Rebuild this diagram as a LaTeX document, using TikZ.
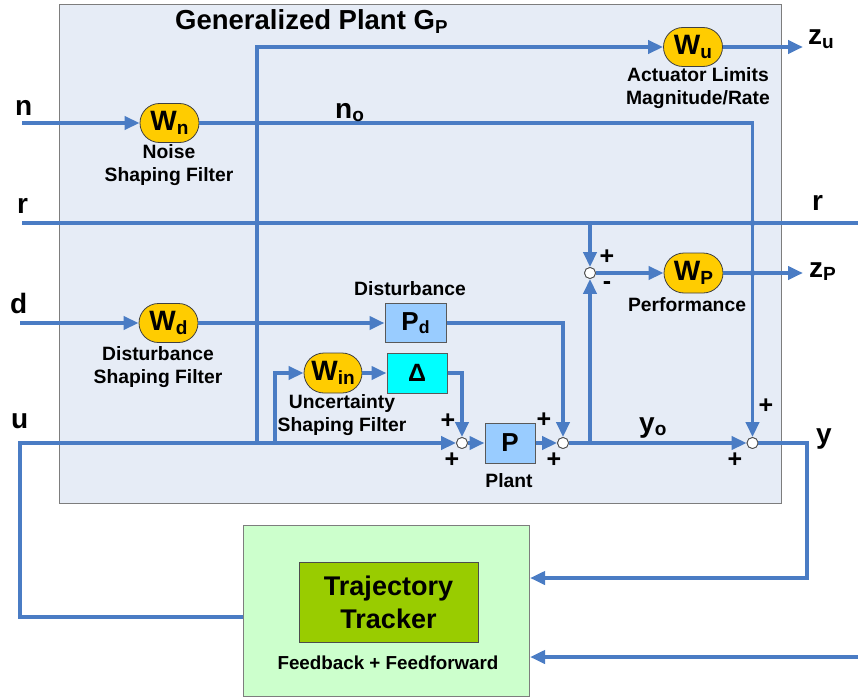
\documentclass[tikz,border=0pt]{standalone}
\usepackage{fontspec}
\setmainfont{Liberation Sans}
\usetikzlibrary{arrows.meta}

\definecolor{wirecol}{RGB}{74,124,196}
\definecolor{plantfill}{RGB}{230,236,246}
\definecolor{framegray}{RGB}{125,125,125}
\definecolor{filteryellow}{RGB}{255,204,0}
\definecolor{blockblue}{RGB}{153,204,255}
\definecolor{deltacyan}{RGB}{0,255,255}
\definecolor{trackerlight}{RGB}{204,255,204}
\definecolor{trackerdark}{RGB}{153,204,0}

% lowered, reduced subscript set in the current text font
\newcommand\lowsub[1]{\raisebox{-0.12em}{\scalebox{0.68}{#1}}}

\begin{document}
\begin{tikzpicture}[x=1pt,y=-1pt,
  wire/.style={draw=wirecol,line width=3.8pt},
  arr/.style={wire,-{Triangle[length=15pt,width=13pt]}},
  filt/.style={draw=black!75,line width=0.8pt,fill=filteryellow,rounded corners=19.5pt,
    minimum width=59pt,minimum height=39pt,inner sep=0pt,
    font=\bfseries\fontsize{28}{28}\selectfont},
  blk/.style={draw=black!65,line width=1pt,fill=blockblue,minimum height=40pt,inner sep=0pt,
    font=\bfseries\fontsize{26}{26}\selectfont},
  sumj/.style={circle,draw=black!70,line width=0.8pt,fill=white,minimum size=11pt,inner sep=0pt},
  lbl/.style={font=\bfseries\fontsize{19.3}{23.5}\selectfont,align=center,anchor=north,inner sep=0pt},
  sig/.style={font=\bfseries\fontsize{28}{28}\selectfont,anchor=base west,inner sep=0pt},
  sgn/.style={font=\bfseries\fontsize{25}{25}\selectfont,inner sep=0pt},
  tap/.style={circle,fill=wirecol,minimum size=6pt,inner sep=0pt},
]
\useasboundingbox (0,0) rectangle (858,698);

% generalized plant frame and title
\node[draw=framegray,line width=1.2pt,fill=plantfill,minimum width=722pt,minimum height=499pt,
  anchor=north west,inner sep=0pt] (gp) at (59,4) {};
\node[font=\bfseries\fontsize{27.5}{30}\selectfont,anchor=base west,inner sep=0pt] (title)
  at (175,30) {Generalized Plant G\lowsub{P}};

% trajectory tracker
\node[draw=framegray,line width=1.2pt,fill=trackerlight,minimum width=286pt,minimum height=171pt,
  anchor=north west,inner sep=0pt] (trk) at (243,525) {};
\node[draw=black!70,line width=1pt,fill=trackerdark,minimum width=179pt,minimum height=80pt,
  inner sep=0pt,align=center,font=\bfseries\fontsize{27}{33}\selectfont] (trkcore)
  at (388.5,602) {Trajectory\\Tracker};
\node[font=\bfseries\fontsize{18.8}{22}\selectfont,anchor=north,inner sep=0pt] (trklbl)
  at (388,656) {Feedback + Feedforward};

% weighting filters
\node[filt] (wn) at (169.5,123) {W\lowsub{n}};
\node[filt] (wu) at (693,47) {W\lowsub{u}};
\node[filt] (wd) at (168.5,323) {W\lowsub{d}};
\node[filt,minimum width=58pt,minimum height=40pt,rounded corners=20pt] (win) at (333,373) {W\lowsub{in}};
\node[filt,minimum height=40pt,rounded corners=20pt] (wp) at (693.5,273) {W\lowsub{P}};

% plant blocks
\node[blk,minimum width=61pt,minimum height=39pt] (pd) at (415.5,323) {P\lowsub{d}};
\node[blk,minimum width=60pt,fill=deltacyan,font=\bfseries\fontsize{25}{25}\selectfont] (delta) at (417,373) {Δ};
\node[blk,minimum width=50pt] (plant) at (510,443) {P};

% summing junctions
\node[sumj] (sj0) at (590,273) {};
\node[sumj] (sj1) at (462,443) {};
\node[sumj] (sj2) at (563,443) {};
\node[sumj] (sj3) at (752.5,443) {};

% free wire ends and branch points
\coordinate (nin) at (22,123);
\coordinate (rin) at (22,223);
\coordinate (rout) at (858,223);
\coordinate (din) at (20,323);
\coordinate (rtap) at (590,223);
\coordinate (ytap) at (590,443);
\coordinate (ubr) at (257,443);
\coordinate (ubrtop) at (257,47);
\coordinate (winbr) at (275,443);
\coordinate (zuend) at (803,47);
\coordinate (zpend) at (803,273);
\coordinate (trkout) at (243,617);
\coordinate (uleft) at (20,617);
\coordinate (ucorner) at (20,443);
\coordinate (ycorner) at (807,443);
\coordinate (ydown) at (807,578);
\coordinate (trkin) at (530,578);
\coordinate (ffin) at (858,657);
\coordinate (trkff) at (530,657);

% signal wires
\draw[arr] (nin) -- (wn);
\draw[arr] (wn.east) -| (sj3.north);
\draw[wire] (rin) -- (rout);
\draw[arr] (rtap) -- (sj0.north);
\draw[arr] (din) -- (wd);
\draw[arr] (wd) -- (pd);
\draw[arr] (pd.east) -| (sj2.north);
\draw[arr] (trkout) -- (uleft) -- (ucorner) -- (sj1);
\draw[arr] (ubr) -- (ubrtop) -- (wu);
\draw[arr] (winbr) |- (win);
\draw[arr] (win) -- (delta);
\draw[arr] (delta.east) -| (sj1.north);
\draw[arr] (sj1) -- (plant);
\draw[arr] (plant) -- (sj2);
\draw[arr] (sj2) -- (sj3);
\draw[arr] (ytap) -- (sj0.south);
\draw[arr] (sj0) -- (wp);
\draw[arr] (wp) -- (zpend);
\draw[arr] (wu) -- (zuend);
\draw[arr] (sj3) -- (ycorner) -- (ydown) -- (trkin);
\draw[arr] (ffin) -- (trkff);

% junction dots on crossing wires
\node[tap] (t1) at (257,123) {};
\node[tap] (t2) at (257,223) {};
\node[tap] (t3) at (257,323) {};
\node[tap] (t4) at (752.5,223) {};
\node[tap] (t5) at (752.5,273) {};

% redraw junction circles on top of the wires
\node[sumj] at (sj0) {};
\node[sumj] at (sj1) {};
\node[sumj] at (sj2) {};
\node[sumj] at (sj3) {};

% external signal names
\node[sig] (ln) at (15,115) {n};
\node[sig] (lr) at (17,213) {r};
\node[sig] (ld) at (10,313) {d};
\node[sig] (lu) at (11,428) {u};
\node[sig] (lno) at (335,118) {n\lowsub{o}};
\node[sig] (lrr) at (812,210) {r};
\node[sig] (lzu) at (808,45) {z\lowsub{u}};
\node[sig] (lzp) at (809,277) {z\lowsub{P}};
\node[sig] (lyo) at (639,432) {y\lowsub{o}};
\node[sig] (ly) at (816,443) {y};

% block captions
\node[lbl] (cn) at (169,144) {Noise\\Shaping Filter};
\node[lbl] (cu) at (698,67) {Actuator Limits\\Magnitude/Rate};
\node[lbl] (cp) at (687,297) {Performance};
\node[lbl] (cpd) at (410,281) {Disturbance};
\node[lbl] (cd) at (158,346) {Disturbance\\Shaping Filter};
\node[lbl] (cin) at (342,394) {Uncertainty\\Shaping Filter};
\node[lbl] (cpl) at (509,473) {Plant};

% signs at the summing junctions
\node[sgn] (s0a) at (607,257) {+};
\node[sgn] (s0b) at (607,286) {-};
\node[sgn] (s1a) at (448,421) {+};
\node[sgn] (s1b) at (452,460) {+};
\node[sgn] (s2a) at (544,420) {+};
\node[sgn] (s2b) at (554,460) {+};
\node[sgn] (s3a) at (766,406) {+};
\node[sgn] (s3b) at (735,460) {+};
\end{tikzpicture}
\end{document}
